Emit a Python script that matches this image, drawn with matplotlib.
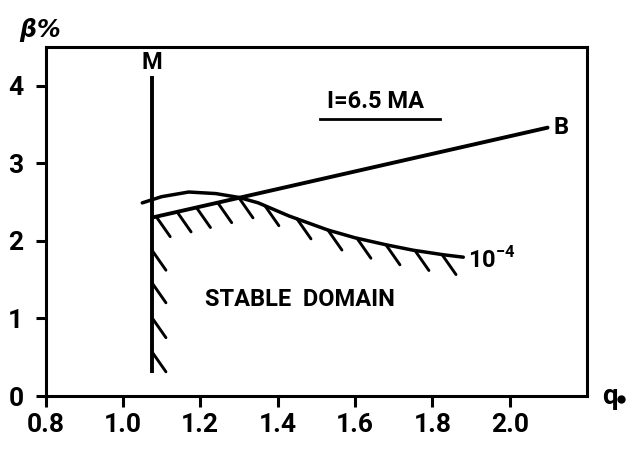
import numpy as np
import matplotlib
matplotlib.use('Agg')
import matplotlib.pyplot as plt

plt.rcParams['font.family'] = ['Roboto', 'DejaVu Sans']
plt.rcParams['font.weight'] = 'bold'
plt.rcParams['mathtext.fontset'] = 'custom'
plt.rcParams['mathtext.rm'] = 'Roboto:bold'
plt.rcParams['mathtext.bf'] = 'Roboto:bold'

# data
x_ticks = [0.8, 1.0, 1.2, 1.4, 1.6, 1.8, 2.0]
y_ticks = [0, 1, 2, 3, 4]

# vertical stability limit M
m_q = [1.075, 1.075]
m_beta = [0.3, 4.12]

# line B
b_q = [1.075, 2.098]
b_beta = [2.30, 3.46]

# 10^-4 curve
c_q = [1.05, 1.10, 1.17, 1.24, 1.30, 1.35, 1.43, 1.53, 1.60, 1.68, 1.75, 1.83, 1.88]
c_beta = [2.49, 2.57, 2.63, 2.61, 2.56, 2.49, 2.32, 2.14, 2.04, 1.95, 1.88, 1.82, 1.79]

# hatch positions along the stable boundary
hatch_b_q = [1.086, 1.14, 1.19, 1.245, 1.30]
hatch_c_q = [1.367, 1.45, 1.53, 1.605, 1.68, 1.755, 1.825]
hatch_m_beta = [1.88, 1.46, 1.01, 0.57]

fig = plt.figure(figsize=(6.36, 4.5), dpi=100)
ax = fig.add_axes([0.0717, 0.12, 0.8513, 0.7756])
ax.set_xlim(0.8, 2.2)
ax.set_ylim(0, 4.5)

lw = 2.8
ax.plot(m_q, m_beta, color='black', lw=lw, solid_capstyle='butt')
ax.plot(b_q, b_beta, color='black', lw=lw, solid_capstyle='round')
ax.plot(c_q, c_beta, color='black', lw=2.5, solid_capstyle='round')

# hatch strokes (offset in data units ~ 14 px right, 20 px down)
dq, db = 14 / 387, -20 / 77.5
slope = (b_beta[1] - b_beta[0]) / (b_q[1] - b_q[0])
bases = [(q, b_beta[0] + (q - b_q[0]) * slope) for q in hatch_b_q]
bases += [(q, np.interp(q, c_q, c_beta)) for q in hatch_c_q]
bases += [(m_q[0], b) for b in hatch_m_beta]
for q, b in bases:
    ax.plot([q, q + dq], [b, b + db], color='black', lw=2.1, solid_capstyle='round')

ax.text(1.075, 4.3, 'M', ha='center', va='center', fontsize=17)
ax.text(2.113, 3.46, 'B', ha='left', va='center', fontsize=17)
ax.text(1.893, 1.76, r'10$^{-4}$', ha='left', va='center', fontsize=17)
ax.text(1.652, 3.80, 'I=6.5 MA', ha='center', va='center', fontsize=17)
ax.plot([1.51, 1.82], [3.57, 3.57], color='black', lw=2.0)
ax.text(1.457, 1.24, 'STABLE  DOMAIN', ha='center', va='center', fontsize=17)

ax.text(-0.05, 1.05, r'$\beta$%', transform=ax.transAxes, ha='left', va='center',
        fontsize=17, family='DejaVu Sans', style='italic')
ax.text(1.028, 0.0, 'q', transform=ax.transAxes, ha='left', va='center', fontsize=20)
ax.plot([1.063], [-0.008], 'o', color='black', ms=5, transform=ax.transAxes, clip_on=False)

ax.set_xticks(x_ticks)
ax.set_xticklabels(['0.8', '1.0', '1.2', '1.4', '1.6', '1.8', '2.0'])
ax.set_yticks(y_ticks)
ax.tick_params(axis='x', direction='out', length=8, width=2.2, pad=4, labelsize=19)
ax.tick_params(axis='y', direction='out', length=7, width=2.2, pad=9, labelsize=19)
for s in ax.spines.values():
    s.set_linewidth(2.2)

fig.savefig('out.png', dpi=100)
